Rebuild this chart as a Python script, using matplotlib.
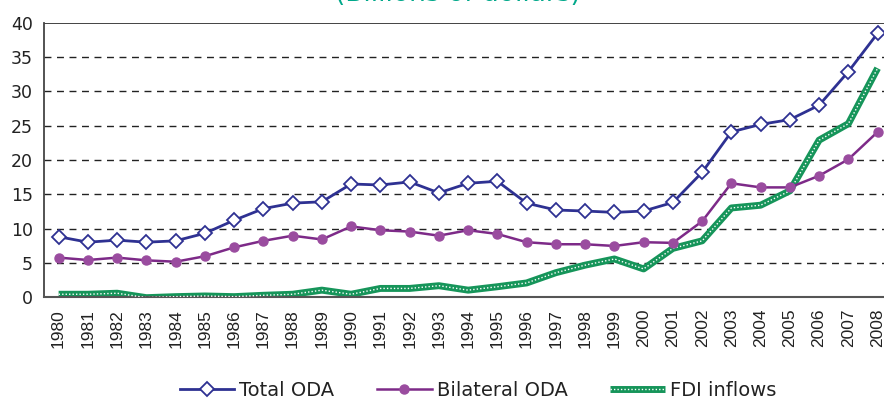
import matplotlib.pyplot as plt
from matplotlib.lines import Line2D

plt.rcParams['font.family'] = ['DejaVu Sans']

years = list(range(1980, 2009))

total_oda = [8.8, 8.0, 8.3, 8.0, 8.2, 9.3, 11.2, 12.9, 13.7, 13.9,
             16.5, 16.35, 16.8, 15.2, 16.6, 16.9, 13.7, 12.7, 12.55, 12.35,
             12.55, 13.8, 18.2, 24.1, 25.2, 25.9, 28.0, 32.9, 38.5]
bilateral_oda = [5.75, 5.4, 5.75, 5.35, 5.15, 5.95, 7.25, 8.2, 8.95, 8.4,
                 10.3, 9.75, 9.55, 8.95, 9.75, 9.2, 8.0, 7.7, 7.7, 7.45,
                 8.0, 7.9, 11.05, 16.6, 16.0, 16.0, 17.7, 20.1, 24.1]
fdi_inflows = [0.4, 0.4, 0.55, -0.1, 0.05, 0.15, 0.05, 0.25, 0.4, 1.0,
               0.4, 1.25, 1.25, 1.65, 1.0, 1.5, 2.05, 3.55, 4.65, 5.55,
               4.1, 7.1, 8.2, 13.0, 13.4, 15.5, 22.9, 25.3, 33.4]

NAVY = "#2e3192"
PURPLE = "#7d2a88"
PURPLE_MK = "#9a4c9f"
GREEN = "#16955a"

fig = plt.figure(figsize=(8.84, 4.03), dpi=100)
ax = fig.add_axes([44 / 884, 1 - 297 / 403, 848.25 / 884, 274 / 403])

for y in range(5, 40, 5):
    ax.axhline(y, color="#222222", linewidth=1.0, linestyle=(0, (5, 4)), zorder=1)
ax.axhline(40, color="#222222", linewidth=1.2, zorder=1)

# FDI: thick green band with a dotted white core
ax.plot(years, fdi_inflows, color=GREEN, linewidth=5, zorder=2, solid_capstyle="butt")
ax.plot(years, fdi_inflows, color="white", linewidth=1.0, linestyle=(0, (1, 1.5)), zorder=3)

ax.plot(years, bilateral_oda, color=PURPLE, linewidth=1.8, marker="o",
        markersize=6.5, markerfacecolor=PURPLE_MK, markeredgecolor=PURPLE_MK, zorder=4)
ax.plot(years, total_oda, color=NAVY, linewidth=2.0, marker="D",
        markersize=7, markerfacecolor="white", markeredgecolor=NAVY,
        markeredgewidth=1.3, zorder=5)

ax.set_xlim(1979.5, 2008.5)
ax.set_ylim(0, 40)
ax.set_yticks(range(0, 41, 5))
ax.set_xticks(years)
ax.set_xticklabels([str(y) for y in years], rotation=90, fontsize=12.5,
                   color="#222222", family=["Liberation Sans", "DejaVu Sans"])
ax.tick_params(axis="y", labelsize=12.5, length=0, pad=8, labelcolor="#222222")
ax.tick_params(axis="x", length=0, pad=8.5)

for side in ["top", "right"]:
    ax.spines[side].set_visible(False)
ax.spines["left"].set_color("#444444")
ax.spines["bottom"].set_color("#555555")
ax.spines["left"].set_linewidth(1.3)
ax.spines["bottom"].set_linewidth(1.5)

# title sits mostly above the canvas, as in the source image
fig.text(458 / 884, 1 - 1 / 403, "(Billions of dollars)", color="#00a88a",
         fontsize=19, ha="center", va="baseline")

h_total = Line2D([], [], color=NAVY, linewidth=2.0, marker="D", markersize=7,
                 markerfacecolor="white", markeredgecolor=NAVY, markeredgewidth=1.3)
h_bil = Line2D([], [], color=PURPLE, linewidth=1.8, marker="o", markersize=6.5,
               markerfacecolor=PURPLE_MK, markeredgecolor=PURPLE_MK)
h_fdi_a = Line2D([], [], color=GREEN, linewidth=5, solid_capstyle="butt")
h_fdi_b = Line2D([], [], color="white", linewidth=1.0, linestyle=(0, (1, 1.5)))

fig.legend([h_total, h_bil, (h_fdi_a, h_fdi_b)],
           ["Total ODA", "Bilateral ODA", "FDI inflows"],
           loc="center", bbox_to_anchor=(478 / 884, 1 - 390 / 403), ncol=3,
           frameon=False, fontsize=14, handlelength=2.8, columnspacing=2.2,
           handletextpad=0.26, labelcolor="#222222")

fig.savefig("out.png", dpi=100)
